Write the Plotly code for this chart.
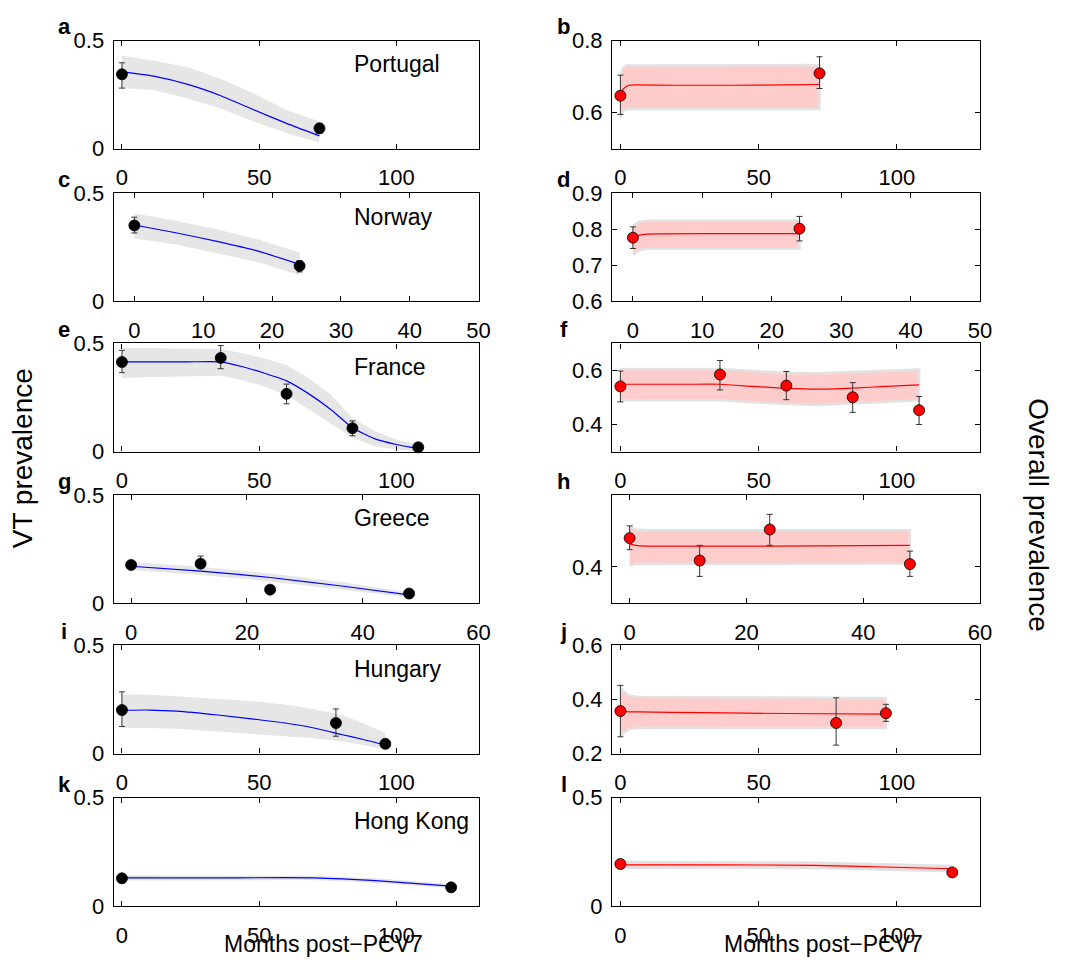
import plotly.graph_objects as go

# ---------------- Data ----------------
# Portugal
pt_obs_months = [0, 72]
pt_vt_obs = [0.344, 0.094]
pt_vt_err_hi = [0.053, 0.023]
pt_vt_err_lo = [0.064, 0.023]
pt_vt_fit_months = [0, 12, 24, 36, 48, 60, 72]
pt_vt_fit = [0.356, 0.334, 0.297, 0.245, 0.180, 0.117, 0.059]
pt_vt_band_lo = [0.280, 0.270, 0.232, 0.186, 0.126, 0.073, 0.027]
pt_vt_band_hi = [0.430, 0.406, 0.376, 0.323, 0.255, 0.179, 0.126]
pt_all_obs = [0.647, 0.709]
pt_all_err_hi = [0.057, 0.046]
pt_all_err_lo = [0.052, 0.042]
pt_all_fit_months = [0, 1, 2, 3, 6, 20, 40, 60, 72]
pt_all_fit = [0.648, 0.665, 0.672, 0.676, 0.677, 0.676, 0.676, 0.677, 0.678]
pt_all_band_lo = [0.585, 0.605, 0.610, 0.610, 0.610, 0.610, 0.610, 0.610, 0.610]
pt_all_band_hi = [0.700, 0.725, 0.730, 0.731, 0.731, 0.731, 0.731, 0.732, 0.732]

# Norway
no_obs_months = [0, 24]
no_vt_obs = [0.350, 0.163]
no_vt_err_hi = [0.038, 0.023]
no_vt_err_lo = [0.035, 0.028]
no_vt_fit_months = [0, 6, 12, 18, 24]
no_vt_fit = [0.352, 0.316, 0.276, 0.231, 0.170]
no_vt_band_lo = [0.290, 0.262, 0.222, 0.180, 0.120]
no_vt_band_hi = [0.405, 0.372, 0.332, 0.285, 0.225]
no_all_obs = [0.776, 0.801]
no_all_err_hi = [0.030, 0.034]
no_all_err_lo = [0.030, 0.034]
no_all_fit_months = [0, 1, 2, 12, 24]
no_all_fit = [0.776, 0.783, 0.786, 0.787, 0.787]
no_all_band_lo = [0.728, 0.742, 0.745, 0.745, 0.745]
no_all_band_hi = [0.810, 0.820, 0.823, 0.823, 0.823]

# France
fr_obs_months = [0, 36, 60, 84, 108]
fr_vt_obs = [0.414, 0.433, 0.267, 0.108, 0.020]
fr_vt_err_hi = [0.054, 0.057, 0.045, 0.034, 0.005]
fr_vt_err_lo = [0.049, 0.050, 0.046, 0.035, 0.005]
fr_vt_fit_months = [0, 12, 24, 36, 44, 52, 60, 68, 76, 84, 92, 100, 108]
fr_vt_fit = [0.415, 0.415, 0.415, 0.415, 0.392, 0.362, 0.327, 0.268, 0.196, 0.110, 0.060, 0.033, 0.014]
fr_vt_band_lo = [0.340, 0.345, 0.348, 0.350, 0.330, 0.300, 0.262, 0.198, 0.130, 0.065, 0.025, 0.010, 0.000]
fr_vt_band_hi = [0.480, 0.478, 0.476, 0.474, 0.455, 0.430, 0.400, 0.340, 0.265, 0.155, 0.095, 0.055, 0.030]
fr_all_obs = [0.541, 0.585, 0.544, 0.501, 0.453]
fr_all_err_hi = [0.057, 0.052, 0.052, 0.054, 0.051]
fr_all_err_lo = [0.057, 0.057, 0.052, 0.056, 0.053]
fr_all_fit_months = [0, 12, 24, 36, 48, 60, 72, 84, 96, 108]
fr_all_fit = [0.549, 0.549, 0.549, 0.549, 0.541, 0.534, 0.531, 0.535, 0.541, 0.547]
fr_all_band_lo = [0.490, 0.490, 0.490, 0.490, 0.482, 0.476, 0.472, 0.478, 0.484, 0.490]
fr_all_band_hi = [0.605, 0.605, 0.605, 0.605, 0.598, 0.592, 0.590, 0.594, 0.599, 0.603]

# Greece
gr_obs_months = [0, 12, 24, 48]
gr_vt_obs = [0.176, 0.182, 0.062, 0.044]
gr_vt_err_hi = [0.015, 0.035, 0.010, 0.006]
gr_vt_err_lo = [0.015, 0.020, 0.010, 0.006]
gr_vt_fit_months = [0, 12, 24, 36, 48]
gr_vt_fit = [0.170, 0.148, 0.118, 0.080, 0.038]
gr_vt_band_lo = [0.153, 0.130, 0.100, 0.063, 0.027]
gr_vt_band_hi = [0.190, 0.168, 0.137, 0.098, 0.050]
gr_all_obs = [0.440, 0.409, 0.452, 0.404]
gr_all_err_hi = [0.017, 0.021, 0.021, 0.018]
gr_all_err_lo = [0.016, 0.022, 0.022, 0.017]
gr_all_fit_months = [0, 1, 3, 24, 48]
gr_all_fit = [0.432, 0.430, 0.429, 0.429, 0.430]
gr_all_band_lo = [0.402, 0.404, 0.405, 0.405, 0.405]
gr_all_band_hi = [0.456, 0.452, 0.451, 0.451, 0.451]

# Hungary
hu_obs_months = [0, 78, 96]
hu_vt_obs = [0.201, 0.141, 0.045]
hu_vt_err_hi = [0.084, 0.065, 0.005]
hu_vt_err_lo = [0.076, 0.061, 0.005]
hu_vt_fit_months = [0, 10, 20, 35, 50, 60, 70, 80, 88, 96]
hu_vt_fit = [0.200, 0.201, 0.196, 0.178, 0.156, 0.140, 0.118, 0.088, 0.065, 0.039]
hu_vt_band_lo = [0.118, 0.118, 0.115, 0.102, 0.088, 0.078, 0.070, 0.057, 0.038, 0.020]
hu_vt_band_hi = [0.274, 0.272, 0.265, 0.252, 0.239, 0.225, 0.205, 0.179, 0.140, 0.095]
hu_all_obs = [0.357, 0.313, 0.349]
hu_all_err_hi = [0.095, 0.093, 0.033]
hu_all_err_lo = [0.095, 0.082, 0.030]
hu_all_fit_months = [0, 1, 3, 6, 30, 60, 96]
hu_all_fit = [0.355, 0.355, 0.354, 0.354, 0.351, 0.348, 0.346]
hu_all_band_lo = [0.260, 0.275, 0.290, 0.295, 0.295, 0.294, 0.294]
hu_all_band_hi = [0.450, 0.430, 0.415, 0.410, 0.408, 0.406, 0.405]

# Hong Kong
hk_obs_months = [0, 120]
hk_vt_obs = [0.128, 0.086]
hk_vt_err_hi = [0.004, 0.004]
hk_vt_err_lo = [0.004, 0.004]
hk_vt_fit_months = [0, 35, 70, 95, 120]
hk_vt_fit = [0.130, 0.130, 0.130, 0.115, 0.092]
hk_vt_band_lo = [0.118, 0.120, 0.120, 0.105, 0.082]
hk_vt_band_hi = [0.142, 0.140, 0.140, 0.126, 0.102]
hk_all_obs = [0.194, 0.155]
hk_all_err_hi = [0.004, 0.004]
hk_all_err_lo = [0.004, 0.004]
hk_all_fit_months = [0, 35, 70, 95, 120]
hk_all_fit = [0.190, 0.190, 0.188, 0.180, 0.172]
hk_all_band_lo = [0.177, 0.178, 0.176, 0.168, 0.160]
hk_all_band_hi = [0.203, 0.203, 0.200, 0.193, 0.185]

# Axis settings
x_range_long = [-3, 130]
x_ticks_long = [0, 50, 100]
x_range_no = [-3, 50]
x_ticks_no = [0, 10, 20, 30, 40, 50]
x_range_gr = [-3, 60]
x_ticks_gr = [0, 20, 40, 60]

countries = ["Portugal", "Norway", "France", "Greece", "Hungary", "Hong Kong"]
letters_left = ["a", "c", "e", "g", "i", "k"]
letters_right = ["b", "d", "f", "h", "j", "l"]

vt_y_ranges = [[0, 0.5]] * 6
vt_y_ticks = [[0, 0.5]] * 6
all_y_ranges = [[0.5, 0.8], [0.6, 0.9], [0.3, 0.7], [0.35, 0.5], [0.2, 0.6], [0, 0.5]]
all_y_ticks = [[0.6, 0.8], [0.6, 0.7, 0.8, 0.9], [0.4, 0.6], [0.4], [0.2, 0.4, 0.6], [0, 0.5]]

# ---------------- Panel table built from the arrays ----------------
rows = [
    dict(obs_x=pt_obs_months, xr=x_range_long, xt=x_ticks_long,
         vt=(pt_vt_obs, pt_vt_err_hi, pt_vt_err_lo, pt_vt_fit_months, pt_vt_fit, pt_vt_band_lo, pt_vt_band_hi),
         al=(pt_all_obs, pt_all_err_hi, pt_all_err_lo, pt_all_fit_months, pt_all_fit, pt_all_band_lo, pt_all_band_hi)),
    dict(obs_x=no_obs_months, xr=x_range_no, xt=x_ticks_no,
         vt=(no_vt_obs, no_vt_err_hi, no_vt_err_lo, no_vt_fit_months, no_vt_fit, no_vt_band_lo, no_vt_band_hi),
         al=(no_all_obs, no_all_err_hi, no_all_err_lo, no_all_fit_months, no_all_fit, no_all_band_lo, no_all_band_hi)),
    dict(obs_x=fr_obs_months, xr=x_range_long, xt=x_ticks_long,
         vt=(fr_vt_obs, fr_vt_err_hi, fr_vt_err_lo, fr_vt_fit_months, fr_vt_fit, fr_vt_band_lo, fr_vt_band_hi),
         al=(fr_all_obs, fr_all_err_hi, fr_all_err_lo, fr_all_fit_months, fr_all_fit, fr_all_band_lo, fr_all_band_hi)),
    dict(obs_x=gr_obs_months, xr=x_range_gr, xt=x_ticks_gr,
         vt=(gr_vt_obs, gr_vt_err_hi, gr_vt_err_lo, gr_vt_fit_months, gr_vt_fit, gr_vt_band_lo, gr_vt_band_hi),
         al=(gr_all_obs, gr_all_err_hi, gr_all_err_lo, gr_all_fit_months, gr_all_fit, gr_all_band_lo, gr_all_band_hi)),
    dict(obs_x=hu_obs_months, xr=x_range_long, xt=x_ticks_long,
         vt=(hu_vt_obs, hu_vt_err_hi, hu_vt_err_lo, hu_vt_fit_months, hu_vt_fit, hu_vt_band_lo, hu_vt_band_hi),
         al=(hu_all_obs, hu_all_err_hi, hu_all_err_lo, hu_all_fit_months, hu_all_fit, hu_all_band_lo, hu_all_band_hi)),
    dict(obs_x=hk_obs_months, xr=x_range_long, xt=x_ticks_long,
         vt=(hk_vt_obs, hk_vt_err_hi, hk_vt_err_lo, hk_vt_fit_months, hk_vt_fit, hk_vt_band_lo, hk_vt_band_hi),
         al=(hk_all_obs, hk_all_err_hi, hk_all_err_lo, hk_all_fit_months, hk_all_fit, hk_all_band_lo, hk_all_band_hi)),
]

# ---------------- Layout geometry ----------------
# Positions are given in reference pixels (1076 x 967) and converted to paper
# fractions; the figure is drawn slightly taller because the captured page
# is compressed vertically by about 1%.
W, H_REF, H_FIG = 1076, 967, 976
FONT = "Liberation Sans, Arial, Helvetica, sans-serif"
col_x = [(115, 484), (619, 991)]
row_tops = [29, 184, 337, 491, 644, 799]
row_h = 110


def px_x(p):
    return p / W


def px_y(p):
    return 1 - p / H_REF


fig = go.Figure()
layout = dict(
    width=W, height=H_FIG, margin=dict(l=0, r=0, t=0, b=0),
    paper_bgcolor="white", plot_bgcolor="white", showlegend=False,
    font=dict(family=FONT, color="black"),
)
annotations = []

axis_common = dict(
    showline=True, linecolor="black", linewidth=1.3, mirror="ticks",
    ticks="inside", ticklen=5, tickwidth=1, tickcolor="black",
    showgrid=False, zeroline=False,
    tickfont=dict(family=FONT, size=22, color="black"),
)

k = 0
for r, row in enumerate(rows):
    for c in range(2):
        k += 1
        sfx = "" if k == 1 else str(k)
        xa, ya = "x" + sfx, "y" + sfx
        obs, ehi, elo, fx, fy, blo, bhi = row["vt"] if c == 0 else row["al"]
        yr = vt_y_ranges[r] if c == 0 else all_y_ranges[r]
        yt = vt_y_ticks[r] if c == 0 else all_y_ticks[r]

        # uncertainty band
        if c == 0:
            fig.add_trace(go.Scatter(
                x=list(fx) + list(fx)[::-1], y=list(bhi) + list(blo)[::-1],
                fill="toself", fillcolor="#e6e6e6", line=dict(width=0),
                mode="lines", hoverinfo="skip", xaxis=xa, yaxis=ya))
        else:
            fig.add_trace(go.Scatter(
                x=list(fx) + list(fx)[::-1], y=list(bhi) + list(blo)[::-1],
                fill="toself", fillcolor="#ffcccc",
                line=dict(width=2.5, color="#e2e2e2"),
                mode="lines", hoverinfo="skip", xaxis=xa, yaxis=ya))
        # model fit line
        fig.add_trace(go.Scatter(
            x=fx, y=fy, mode="lines",
            line=dict(color="#0000ff" if c == 0 else "#ff0000", width=1.2,
                      shape="spline", smoothing=0.5),
            xaxis=xa, yaxis=ya))
        # observations
        fig.add_trace(go.Scatter(
            x=row["obs_x"], y=obs, mode="markers",
            marker=dict(size=11, color="black" if c == 0 else "#ff0000",
                        line=dict(color="black", width=0.8)),
            error_y=dict(type="data", symmetric=False, array=ehi, arrayminus=elo,
                         color="#333333", thickness=1, width=3),
            xaxis=xa, yaxis=ya, cliponaxis=False))

        x0, x1 = col_x[c]
        top = row_tops[r]
        bot = top + row_h
        layout["xaxis" + sfx] = dict(
            axis_common, domain=[px_x(x0), px_x(x1)], range=row["xr"],
            tickvals=row["xt"], anchor=ya, ticklabelstandoff=9)
        layout["yaxis" + sfx] = dict(
            axis_common, domain=[px_y(bot), px_y(top)], range=yr,
            tickvals=yt, anchor=xa, ticklabelstandoff=4)

        # panel letter
        annotations.append(dict(
            text="<b>%s</b>" % (letters_left[r] if c == 0 else letters_right[r]),
            x=px_x(65 if c == 0 else 570), y=px_y(top - 14),
            xref="paper", yref="paper", xanchor="center", yanchor="middle",
            showarrow=False, font=dict(family=FONT, size=22, color="black")))
        if c == 0:
            annotations.append(dict(
                text=countries[r], x=px_x(356), y=px_y(top + 24),
                xref="paper", yref="paper", xanchor="left", yanchor="middle",
                showarrow=False, font=dict(family=FONT, size=23, color="black")))

annotations.append(dict(text="VT prevalence", textangle=-90, x=px_x(23), y=px_y(454),
                        xref="paper", yref="paper", xanchor="center", yanchor="middle",
                        showarrow=False, font=dict(family=FONT, size=28, color="black")))
annotations.append(dict(text="Overall prevalence", textangle=90, x=px_x(1050), y=px_y(511),
                        xref="paper", yref="paper", xanchor="center", yanchor="middle",
                        showarrow=False, font=dict(family=FONT, size=28, color="black")))
for cx in (327, 833):
    annotations.append(dict(text="Months post\u2212PCV7", x=px_x(cx), y=px_y(948),
                            xref="paper", yref="paper", xanchor="center", yanchor="middle",
                            showarrow=False, font=dict(family=FONT, size=23, color="black")))

layout["annotations"] = annotations
fig.update_layout(**layout)
fig.write_html("out.html")
